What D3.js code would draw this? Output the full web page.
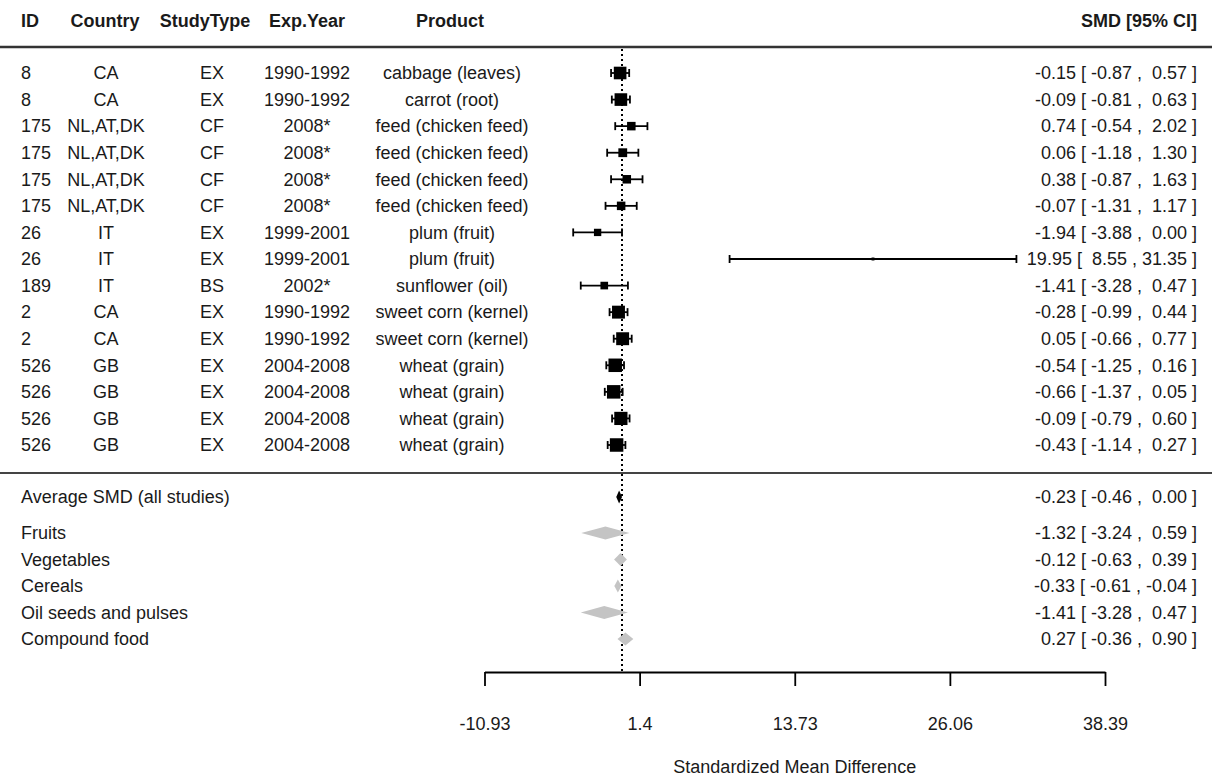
<!DOCTYPE html>
<html><head><meta charset="utf-8">
<script src="https://cdn.jsdelivr.net/npm/d3@7"></script>
<style>
html,body{margin:0;padding:0;background:#fff;}
text{font-family:"Liberation Sans",Arial,sans-serif;fill:#1a1a1a;}
</style></head>
<body>
<svg id="chart" width="1212" height="777"></svg>
<script>
// ---- data ----
const ids = ["8","8","175","175","175","175","26","26","189","2","2","526","526","526","526"];
const countries = ["CA","CA","NL,AT,DK","NL,AT,DK","NL,AT,DK","NL,AT,DK","IT","IT","IT","CA","CA","GB","GB","GB","GB"];
const studyTypes = ["EX","EX","CF","CF","CF","CF","EX","EX","BS","EX","EX","EX","EX","EX","EX"];
const expYears = ["1990-1992","1990-1992","2008*","2008*","2008*","2008*","1999-2001","1999-2001","2002*","1990-1992","1990-1992","2004-2008","2004-2008","2004-2008","2004-2008"];
const products = ["cabbage (leaves)","carrot (root)","feed (chicken feed)","feed (chicken feed)","feed (chicken feed)","feed (chicken feed)","plum (fruit)","plum (fruit)","sunflower (oil)","sweet corn (kernel)","sweet corn (kernel)","wheat (grain)","wheat (grain)","wheat (grain)","wheat (grain)"];
const smd = [-0.15,-0.09,0.74,0.06,0.38,-0.07,-1.94,19.95,-1.41,-0.28,0.05,-0.54,-0.66,-0.09,-0.43];
const ciLow = [-0.87,-0.81,-0.54,-1.18,-0.87,-1.31,-3.88,8.55,-3.28,-0.99,-0.66,-1.25,-1.37,-0.79,-1.14];
const ciHigh = [0.57,0.63,2.02,1.30,1.63,1.17,0.00,31.35,0.47,0.44,0.77,0.16,0.05,0.60,0.27];
const weights = [8.6,8.6,5.8,6.0,5.8,5.8,5.0,2.0,5.2,8.8,8.8,9.2,9.2,9.0,9.2];

const summaryLabels = ["Average SMD (all studies)","Fruits","Vegetables","Cereals","Oil seeds and pulses","Compound food"];
const summarySmd = [-0.23,-1.32,-0.12,-0.33,-1.41,0.27];
const summaryLow = [-0.46,-3.24,-0.63,-0.61,-3.28,-0.36];
const summaryHigh = [0.00,0.59,0.39,-0.04,0.47,0.90];

const tickValues = [-10.93,1.4,13.73,26.06,38.39];
const tickLabels = ["-10.93","1.4","13.73","26.06","38.39"];
const headers = ["ID","Country","StudyType","Exp.Year","Product","SMD [95% CI]"];
const axisTitle = "Standardized Mean Difference";

// ---- layout ----
const svg = d3.select("#chart");
svg.append("rect").attr("width",1212).attr("height",777).attr("fill","#fff");

const x = d3.scaleLinear().domain([-10.93,38.39]).range([484.5,1105]);
const yRow = d3.scaleLinear().domain([0,14]).range([73,445]);
const ySum = d3.scaleLinear().domain([1,5]).range([533,639]);
const sumY = i => i===0 ? 497 : ySum(i);
const boxSize = d3.scaleLinear().domain([0,9.2]).range([0,13.5]);
const fs = 18;

const fmt = v => { const s = v.toFixed(2); return s.length<5 ? " ".repeat(5-s.length)+s : s; };
const ciText = (e,l,h) => `${fmt(e)} [ ${fmt(l)} , ${fmt(h)} ]`;

// header
const hx = [{x:21,a:"start"},{x:105,a:"middle"},{x:205,a:"middle"},{x:307,a:"middle"},{x:450,a:"middle"},{x:1197,a:"end"}];
svg.selectAll("text.hdr").data(headers).join("text").attr("class","hdr")
  .attr("x",(d,i)=>hx[i].x).attr("y",21).attr("dy","0.35em")
  .attr("text-anchor",(d,i)=>hx[i].a)
  .style("font-size","18px").style("font-weight","bold").text(d=>d);

svg.append("line").attr("x1",0).attr("x2",1212).attr("y1",47).attr("y2",47)
  .attr("stroke","#333").attr("stroke-width",2.5);
svg.append("line").attr("x1",0).attr("x2",1212).attr("y1",473).attr("y2",473)
  .attr("stroke","#444").attr("stroke-width",2);

// reference dotted line
svg.append("line").attr("x1",x(0)).attr("x2",x(0)).attr("y1",49).attr("y2",672)
  .attr("stroke","#000").attr("stroke-width",2).attr("stroke-dasharray","2,3");

// study rows text
const cols = [
  {arr:ids,x:21,a:"start"},
  {arr:countries,x:106,a:"middle"},
  {arr:studyTypes,x:212,a:"middle"},
  {arr:expYears,x:307,a:"middle"},
  {arr:products,x:452,a:"middle"}
];
cols.forEach(c=>{
  svg.append("g").selectAll("text").data(c.arr).join("text")
    .attr("x",c.x).attr("y",(d,i)=>yRow(i)).attr("dy","0.35em")
    .attr("text-anchor",c.a).style("font-size",fs+"px").text(d=>d);
});
svg.append("g").selectAll("text").data(smd).join("text")
  .attr("x",1197).attr("y",(d,i)=>yRow(i)).attr("dy","0.35em")
  .attr("text-anchor","end").attr("xml:space","preserve").style("white-space","pre")
  .style("font-size",fs+"px").text((d,i)=>ciText(d,ciLow[i],ciHigh[i]));

// CI lines
const g = svg.append("g");
smd.forEach((d,i)=>{
  const y = yRow(i);
  g.append("line").attr("x1",x(ciLow[i])).attr("x2",x(ciHigh[i])).attr("y1",y).attr("y2",y)
    .attr("stroke","#000").attr("stroke-width",1.8);
  [ciLow[i],ciHigh[i]].forEach(v=>{
    g.append("line").attr("x1",x(v)).attr("x2",x(v)).attr("y1",y-4).attr("y2",y+4)
      .attr("stroke","#000").attr("stroke-width",1.8);
  });
  const s = boxSize(weights[i]);
  g.append("rect").attr("x",x(d)-s/2).attr("y",y-s/2).attr("width",s).attr("height",s).attr("fill","#000");
});

// summary rows
svg.append("g").selectAll("text").data(summaryLabels).join("text")
  .attr("x",21).attr("y",(d,i)=>sumY(i)).attr("dy","0.35em")
  .style("font-size",fs+"px").text(d=>d);
svg.append("g").selectAll("text").data(summarySmd).join("text")
  .attr("x",1197).attr("y",(d,i)=>sumY(i)).attr("dy","0.35em")
  .attr("text-anchor","end").attr("xml:space","preserve").style("white-space","pre")
  .style("font-size",fs+"px").text((d,i)=>ciText(d,summaryLow[i],summaryHigh[i]));
svg.append("g").selectAll("path").data(summarySmd).join("path")
  .attr("d",(d,i)=>{
    const y=sumY(i), h=6.5;
    return `M${x(summaryLow[i])},${y} L${x(d)},${y-h} L${x(summaryHigh[i])},${y} L${x(d)},${y+h} Z`;
  })
  .attr("fill",(d,i)=> i===0 ? "#000" : "#c4c4c4");

// axis
const axis = d3.axisBottom(x).tickValues(tickValues).tickSize(14).tickSizeOuter(0).tickPadding(31)
  .tickFormat((d,i)=>tickLabels[i]);
const ax = svg.append("g").attr("transform","translate(0,672)").call(axis);
ax.select(".domain").attr("stroke","#000").attr("stroke-width",1.8);
ax.selectAll(".tick line").attr("stroke","#000").attr("stroke-width",1.8);
ax.selectAll(".tick text").style("font-size","18px").style("font-family","'Liberation Sans',Arial,sans-serif").attr("fill","#1a1a1a");

svg.append("text").attr("x",(x.range()[0]+x.range()[1])/2).attr("y",767).attr("dy","0.35em")
  .attr("text-anchor","middle").style("font-size","18px").text(axisTitle);
</script>
</body></html>
